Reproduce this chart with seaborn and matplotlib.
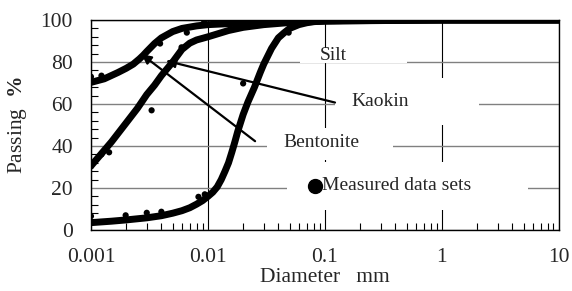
import numpy as np
import pandas as pd
import matplotlib.pyplot as plt
import seaborn as sns
from matplotlib.patches import Rectangle
from matplotlib.ticker import LogLocator, MultipleLocator, NullFormatter

# style first, fonts after (set_style resets font.family)
sns.set_style("ticks")
plt.rcParams['font.family'] = ['Liberation Serif', 'DejaVu Sans']
plt.rcParams['mathtext.fontset'] = 'custom'
plt.rcParams['mathtext.rm'] = 'Liberation Serif'
plt.rcParams['mathtext.bf'] = 'Liberation Serif:bold'

# fitted curves (diameter mm, passing %)
silt_d = [0.001, 0.0015, 0.002, 0.003, 0.004, 0.005, 0.006, 0.007, 0.008, 0.009, 0.01,
          0.011, 0.012, 0.013, 0.014, 0.015, 0.016, 0.017, 0.018, 0.02, 0.022, 0.025,
          0.028, 0.03, 0.035, 0.04, 0.045, 0.05, 0.06, 0.07, 0.08, 0.1, 0.2, 0.5, 1, 10]
silt_p = [3.5, 4.2, 4.8, 5.8, 6.8, 8.0, 9.2, 10.6, 12.3, 14.0, 16.0,
          18.0, 20.5, 24.0, 28.0, 32.0, 37.0, 42.0, 47.0, 55.0, 61.0, 68.0,
          75.0, 79.0, 86.5, 91.5, 94.0, 96.0, 97.8, 98.7, 99.2, 99.6, 99.9, 100, 100, 100]

bent_d = [0.001, 0.0015, 0.002, 0.0025, 0.003, 0.0035, 0.004, 0.005, 0.006, 0.007,
          0.008, 0.01, 0.015, 0.02, 0.03, 0.05, 0.1, 1, 10]
bent_p = [30.5, 42.0, 51.0, 58.0, 64.5, 69.0, 73.5, 80.0, 86.0, 89.0,
          90.5, 92.0, 95.0, 96.5, 97.8, 98.8, 99.5, 100, 100]

kaol_d = [0.001, 0.0013, 0.0017, 0.002, 0.0023, 0.0026, 0.0028, 0.003, 0.0035, 0.004,
          0.005, 0.006, 0.008, 0.01, 0.02, 0.05, 0.1, 1, 10]
kaol_p = [70.3, 72.0, 75.0, 77.0, 79.0, 81.5, 83.2, 85.0, 88.8, 91.5,
          94.5, 96.0, 97.2, 97.8, 98.6, 99.3, 99.6, 100, 100]

# measured points
meas_d = [0.001, 0.00123, 0.0039, 0.0066, 0.0093, 0.013, 0.0224, 0.035, 0.049, 0.082,
          0.001, 0.00123, 0.00143, 0.0033, 0.00595,
          0.001, 0.001, 0.00198, 0.003, 0.004, 0.0083, 0.0094, 0.02, 0.049]
meas_p = [73.0, 73.5, 88.8, 94.0, 99.5, 99.8, 99.8, 99.8, 99.8, 100,
          30.3, 36.0, 37.0, 57.0, 87.0,
          6.6, 4.0, 7.0, 8.2, 8.7, 15.8, 17.0, 69.8, 94.0]

xticks = [0.001, 0.01, 0.1, 1, 10]
xtick_labels = ['0.001', '0.01', '0.1', '1', '10']
yticks = [0, 20, 40, 60, 80, 100]

fig = plt.figure(figsize=(5.72, 2.91), dpi=100)
ax = fig.add_axes([0.159, 0.2096, 0.818, 0.7216])
ax.set_axisbelow(True)

for d, p in [(silt_d, silt_p), (bent_d, bent_p), (kaol_d, kaol_p)]:
    sns.lineplot(x=d, y=p, color='black', linewidth=5, sort=False, estimator=None,
                 solid_capstyle='round', ax=ax, zorder=2)
sns.scatterplot(x=meas_d, y=meas_p, color='black', s=20, edgecolor='none', ax=ax, zorder=3)

ax.set_xscale('log')
ax.set_xlim(0.001, 10)
ax.set_ylim(0, 100)
ax.set_xticks(xticks, labels=xtick_labels)
ax.set_yticks(yticks)
ax.xaxis.set_minor_locator(LogLocator(base=10, subs=range(2, 10)))
ax.xaxis.set_minor_formatter(NullFormatter())
ax.yaxis.set_minor_locator(MultipleLocator(4))
ax.tick_params(which='major', length=0, labelsize=15.5)
ax.tick_params(axis='y', which='major', pad=13)
ax.tick_params(axis='x', which='major', pad=13)
ax.tick_params(which='minor', direction='in', length=5, width=0.8, color='black')
ax.xaxis.grid(True, which='major', color='black', linewidth=0.8)
ax.yaxis.grid(True, which='major', color='#808080', linewidth=1)
for s in ax.spines.values():
    s.set_color('black')
    s.set_linewidth(1)

ax.set_xlabel('Diameter   mm', fontsize=15.5, labelpad=1)
ax.set_ylabel(r'Passing  $\mathbf{\%}$', fontsize=15.5, labelpad=8)

# white label boxes breaking the grid
for x0, y0, w, h in [(0.447, 0.795, 0.228, 0.072), (0.521, 0.50, 0.308, 0.224),
                     (0.376, 0.333, 0.269, 0.153), (0.419, 0.095, 0.515, 0.229)]:
    ax.add_patch(Rectangle((x0, y0), w, h, transform=ax.transAxes, facecolor='white',
                           edgecolor='none', zorder=1))

ax.text(0.117, 83, 'Silt', fontsize=14, ha='center', va='center', zorder=4)
ax.text(0.295, 61, 'Kaokin', fontsize=14, ha='center', va='center', zorder=4)
ax.text(0.094, 41.5, 'Bentonite', fontsize=14, ha='center', va='center', zorder=4)
ax.scatter([0.0825], [21], s=100, color='black', zorder=4, clip_on=False)
ax.text(0.095, 21, 'Measured data sets', fontsize=14, ha='left', va='center', zorder=4)

arrow = dict(arrowstyle='-|>', color='black', lw=1.6, mutation_scale=14, shrinkA=0, shrinkB=0)
ax.annotate('', xy=(0.00438, 80.6), xytext=(0.122, 60.7), arrowprops=arrow, zorder=4)
ax.annotate('', xy=(0.00271, 83.7), xytext=(0.0253, 42.3), arrowprops=arrow, zorder=4)

fig.savefig('out.png', dpi=100)
